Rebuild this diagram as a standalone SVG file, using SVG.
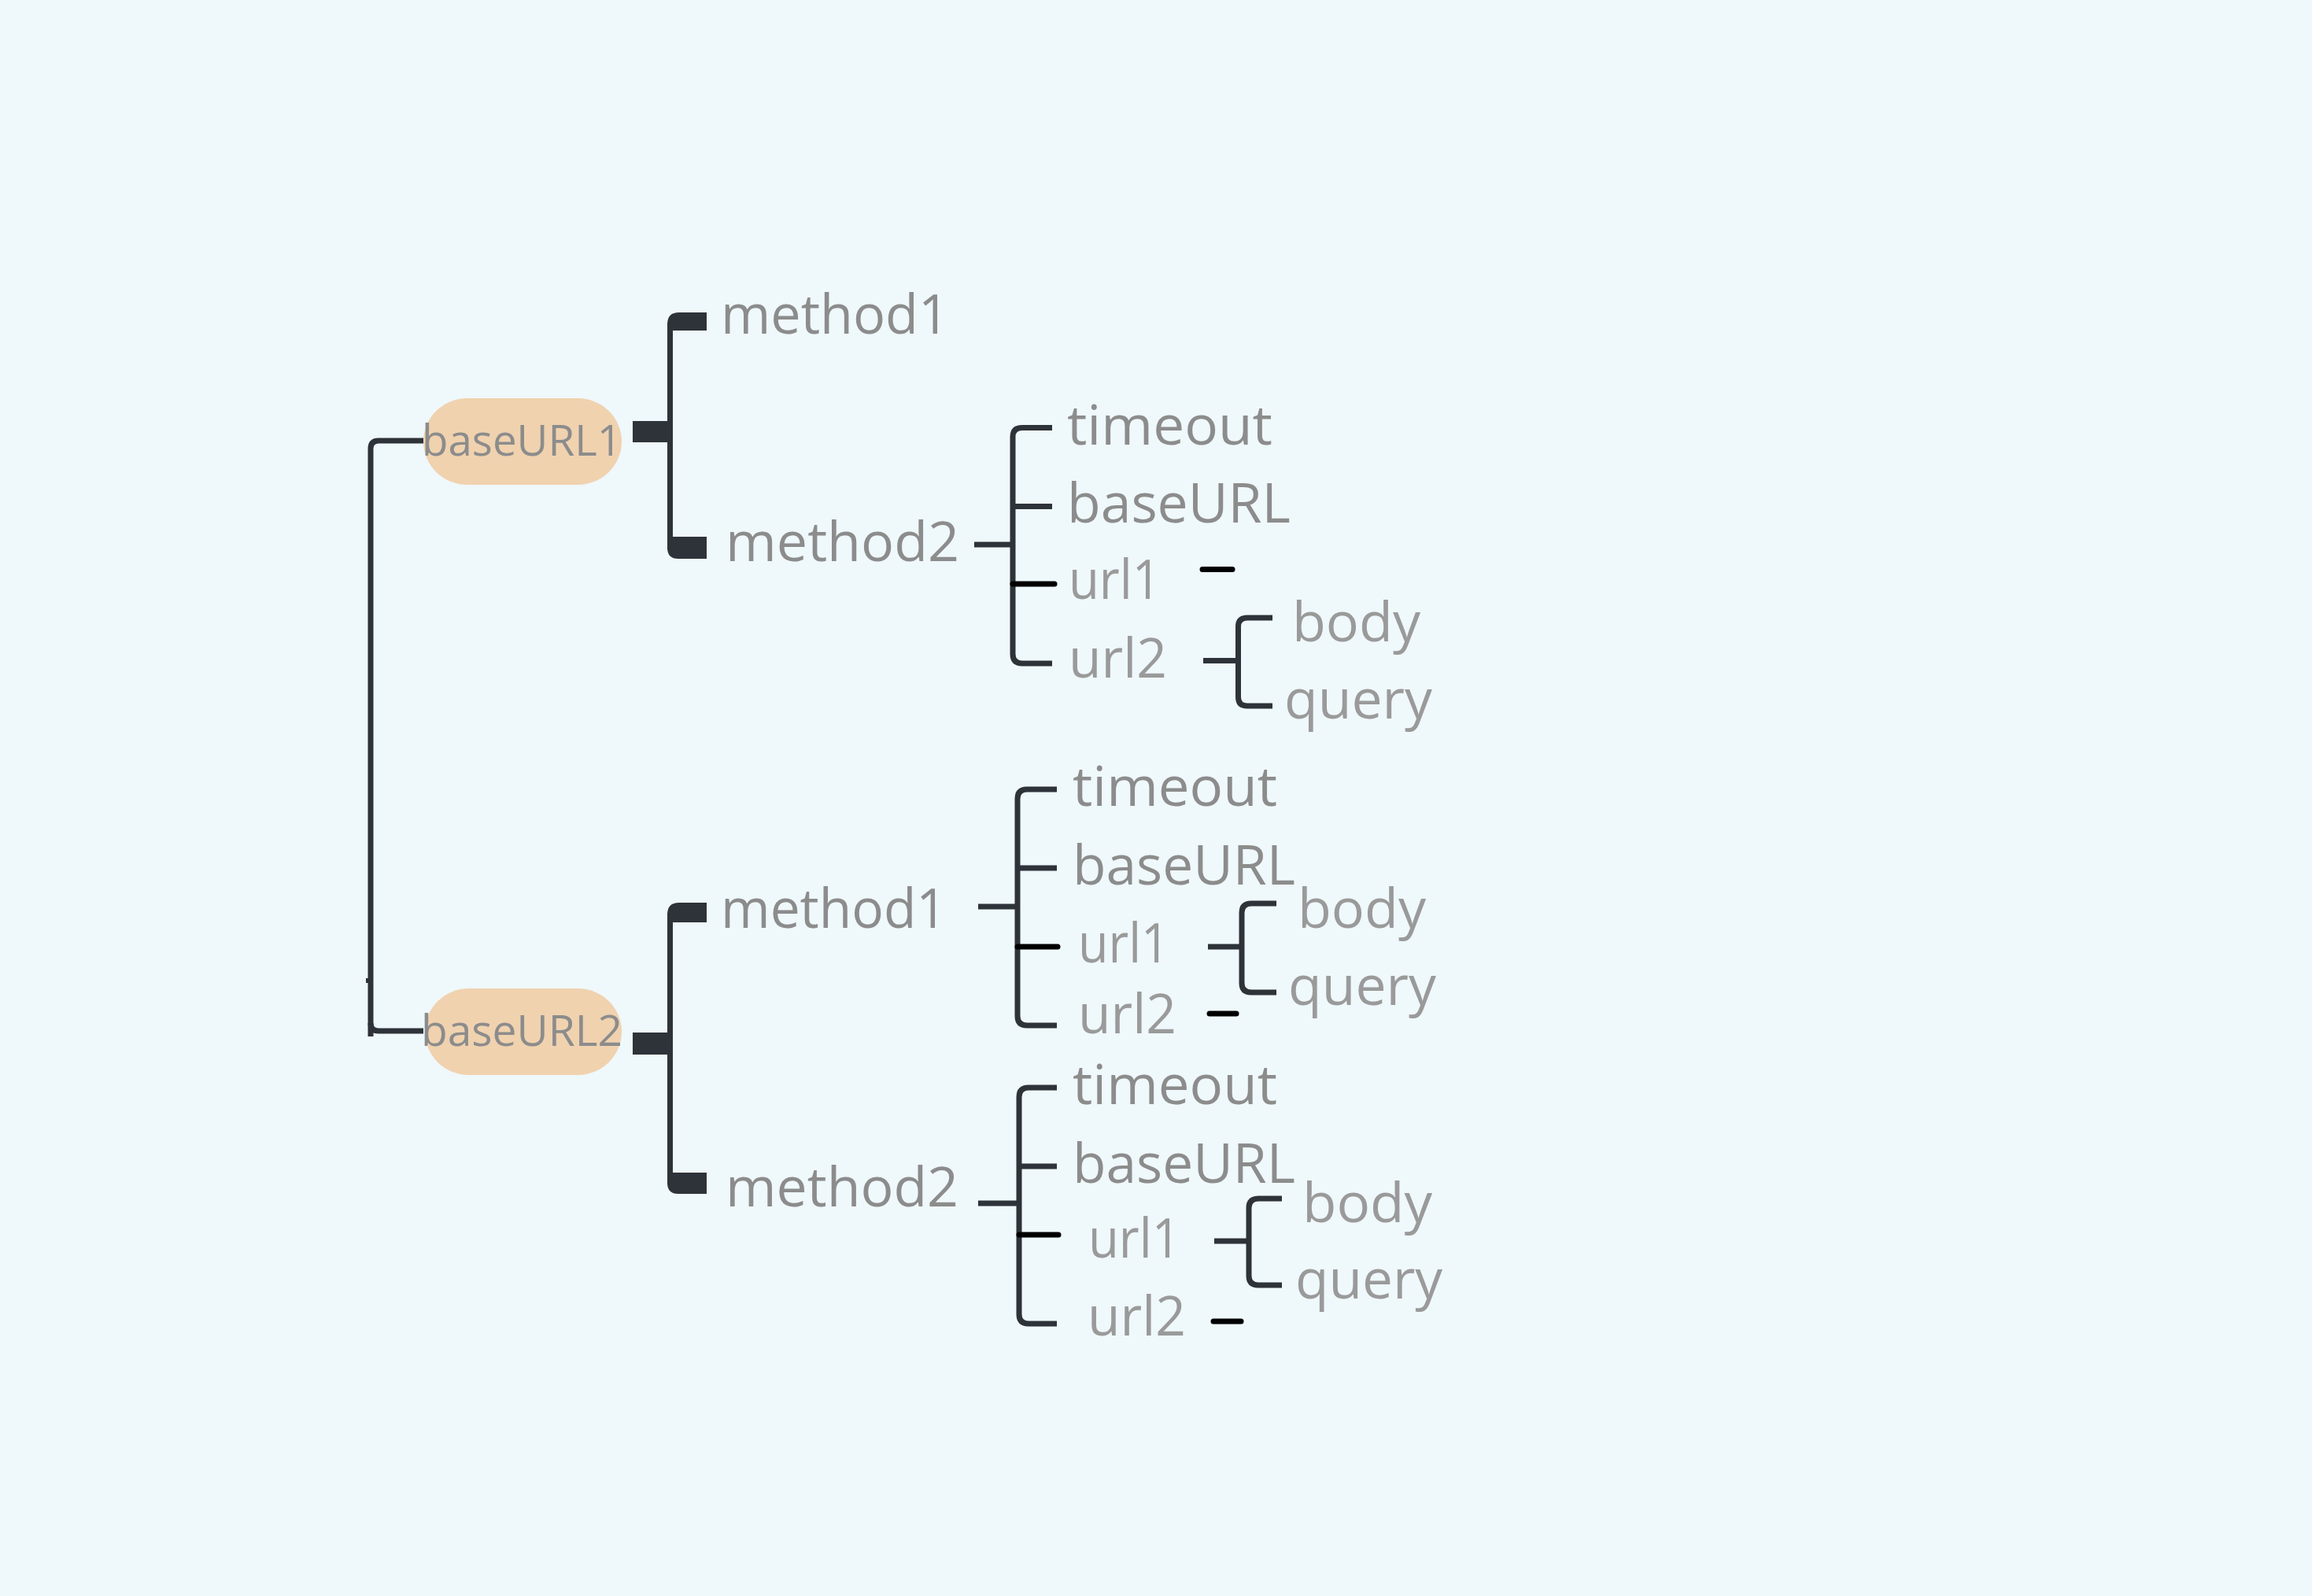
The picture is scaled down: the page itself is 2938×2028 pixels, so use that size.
<svg xmlns="http://www.w3.org/2000/svg" width="2938" height="2028" viewBox="0 0 2938 2028">
<style>
.t{font-family:"Open Sans","Noto Sans","Liberation Sans",sans-serif;fill:#8c8c8c;font-size:70px}
.l{fill:#9a9a9a}
.r{font-size:55px}
.c{fill:none;stroke:#2e3339;stroke-width:7}
.k{fill:none;stroke:#000;stroke-width:7;stroke-linecap:round}
.th{fill:#2e3339}
.pill{fill:#f0d2af}
</style>
<rect width="2938" height="2028" fill="#eff8fb"/>
<g id="connectors">
  <path class="c" d="M538,560 H481 Q471,560 471,570 V1317"/>
  <path class="c" d="M471,1300 Q471,1310 481,1310 H538"/>
  <rect class="th" x="465" y="1243" width="6" height="6"/>
  <rect class="th" x="804" y="535" width="48" height="27"/>
  <path class="c" d="M851.5,410 V698"/>
  <path class="th" d="M848,420 V412 Q848,397 863,397 H898 V420 Z"/>
  <path class="th" d="M848,682 V696 Q848,710 862,710 H898 V682 Z"/>
  <rect class="th" x="804" y="1312" width="48" height="28"/>
  <path class="c" d="M851.5,1160 V1505"/>
  <path class="th" d="M848,1172 V1162 Q848,1147 863,1147 H898 V1172 Z"/>
  <path class="th" d="M848,1490 V1503 Q848,1517 862,1517 H898 V1490 Z"/>
  <path class="c" d="M1238,692 H1287"/>
  <path class="c" d="M1337,543.5 H1299 Q1287,543.5 1287,555 V831 Q1287,843 1299,843 H1337"/>
  <path class="c" d="M1287,643.5 H1337"/>
  <path class="k" d="M1287,742 H1340"/>
  <path class="k" d="M1528,723.5 H1566"/>
  <path class="c" d="M1529,839.5 H1573"/>
  <path class="c" d="M1617,785 H1585 Q1573.5,785 1573.5,796 V886 Q1573.5,897 1585,897 H1617"/>
  <path class="c" d="M1243,1152 H1293"/>
  <path class="c" d="M1343,1003 H1305 Q1293,1003 1293,1015 V1291 Q1293,1303 1305,1303 H1343"/>
  <path class="c" d="M1293,1103 H1343"/>
  <path class="k" d="M1293,1203 H1344"/>
  <path class="c" d="M1535,1203 H1578"/>
  <path class="c" d="M1622,1148 H1590 Q1578,1148 1578,1160 V1249 Q1578,1261 1590,1261 H1622"/>
  <path class="k" d="M1537,1288 H1571"/>
  <path class="c" d="M1243,1529 H1295"/>
  <path class="c" d="M1343,1382 H1307 Q1295,1382 1295,1394 V1670 Q1295,1682 1307,1682 H1343"/>
  <path class="c" d="M1295,1482 H1343"/>
  <path class="k" d="M1295,1569 H1345"/>
  <path class="c" d="M1543,1577 H1587"/>
  <path class="c" d="M1629,1523 H1599 Q1587,1523 1587,1535 V1621 Q1587,1633 1599,1633 H1629"/>
  <path class="k" d="M1542,1679 H1577"/>
</g>
<g id="baseURL1"><rect class="pill" x="538" y="506" width="252" height="110" rx="56"/><text class="t r" x="536" y="579" textLength="254" lengthAdjust="spacingAndGlyphs">baseURL1</text></g>
<g id="b1-method1"><text class="t" x="916" y="424" textLength="290" lengthAdjust="spacingAndGlyphs">method1</text></g>
<g id="b1-method2"><text class="t" x="922" y="713" textLength="297" lengthAdjust="spacingAndGlyphs">method2</text></g>
<g id="b1m2-timeout"><text class="t" x="1356" y="565" textLength="261" lengthAdjust="spacingAndGlyphs">timeout</text></g>
<g id="b1m2-baseURL"><text class="t" x="1356" y="664" textLength="284" lengthAdjust="spacingAndGlyphs">baseURL</text></g>
<g id="b1m2-url1"><text class="t l" x="1358" y="761" font-size="62" textLength="117" lengthAdjust="spacingAndGlyphs">url1</text></g>
<g id="b1m2-url2"><text class="t l" x="1358" y="861" textLength="125" lengthAdjust="spacingAndGlyphs">url2</text></g>
<g id="b1m2u2-body"><text class="t l" x="1642" y="815" textLength="163" lengthAdjust="spacingAndGlyphs">body</text></g>
<g id="b1m2u2-query"><text class="t l" x="1632" y="913" textLength="188" lengthAdjust="spacingAndGlyphs">query</text></g>
<g id="baseURL2"><rect class="pill" x="540" y="1256" width="250" height="110" rx="56"/><text class="t r" x="535" y="1329" textLength="256" lengthAdjust="spacingAndGlyphs">baseURL2</text></g>
<g id="b2-method1"><text class="t" x="916" y="1179" textLength="287" lengthAdjust="spacingAndGlyphs">method1</text></g>
<g id="b2-method2"><text class="t" x="922" y="1533" textLength="296" lengthAdjust="spacingAndGlyphs">method2</text></g>
<g id="b2m1-timeout"><text class="t" x="1363" y="1024" textLength="260" lengthAdjust="spacingAndGlyphs">timeout</text></g>
<g id="b2m1-baseURL"><text class="t" x="1363" y="1124" textLength="283" lengthAdjust="spacingAndGlyphs">baseURL</text></g>
<g id="b2m1-url1"><text class="t l" x="1370" y="1223" textLength="116" lengthAdjust="spacingAndGlyphs">url1</text></g>
<g id="b2m1-url2"><text class="t l" x="1370" y="1313" textLength="125" lengthAdjust="spacingAndGlyphs">url2</text></g>
<g id="b2m1u1-body"><text class="t l" x="1649" y="1179" textLength="163" lengthAdjust="spacingAndGlyphs">body</text></g>
<g id="b2m1u1-query"><text class="t l" x="1637" y="1277" textLength="188" lengthAdjust="spacingAndGlyphs">query</text></g>
<g id="b2m2-timeout"><text class="t" x="1363" y="1403" textLength="260" lengthAdjust="spacingAndGlyphs">timeout</text></g>
<g id="b2m2-baseURL"><text class="t" x="1363" y="1503" textLength="283" lengthAdjust="spacingAndGlyphs">baseURL</text></g>
<g id="b2m2-url1"><text class="t l" x="1383" y="1598" textLength="117" lengthAdjust="spacingAndGlyphs">url1</text></g>
<g id="b2m2-url2"><text class="t l" x="1382" y="1697" textLength="125" lengthAdjust="spacingAndGlyphs">url2</text></g>
<g id="b2m2u1-body"><text class="t l" x="1655" y="1553" textLength="165" lengthAdjust="spacingAndGlyphs">body</text></g>
<g id="b2m2u1-query"><text class="t l" x="1646" y="1650" textLength="187" lengthAdjust="spacingAndGlyphs">query</text></g>
</svg>
